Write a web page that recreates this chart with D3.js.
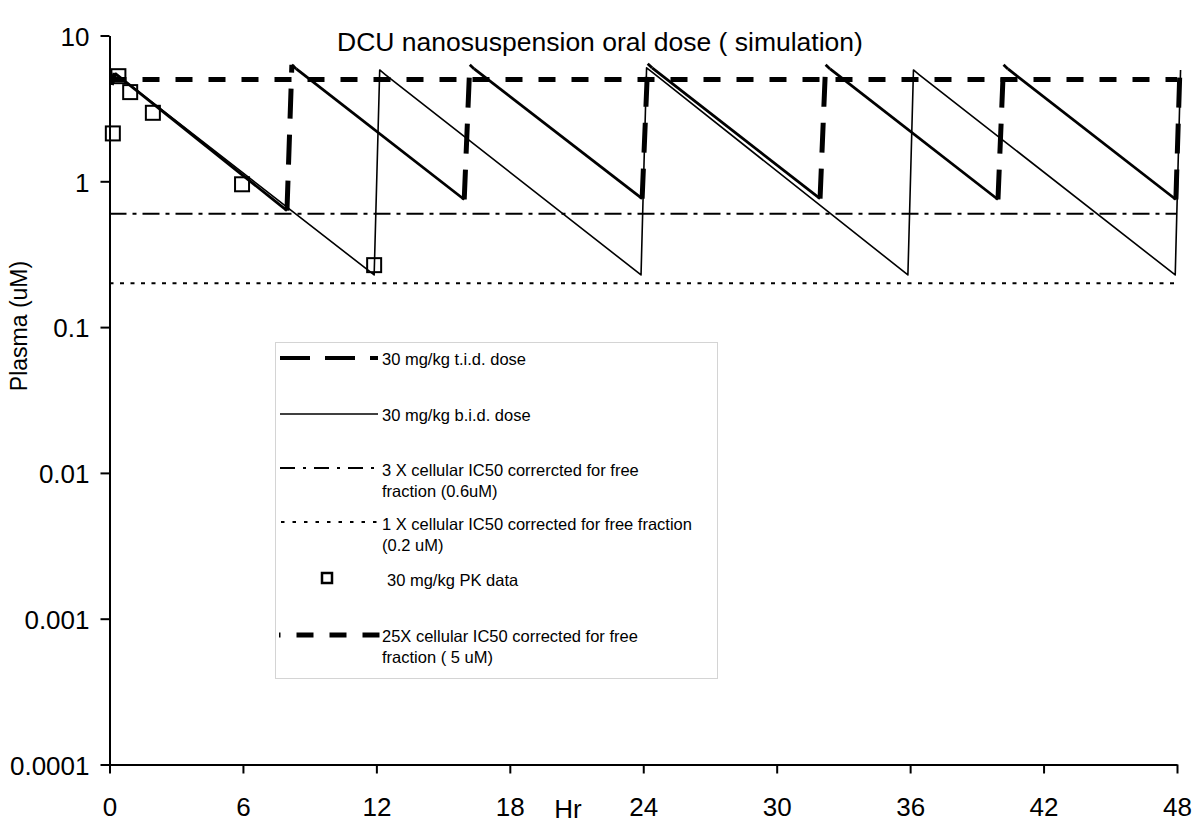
<!DOCTYPE html>
<html><head><meta charset="utf-8">
<script src="https://cdn.jsdelivr.net/npm/d3@7"></script>
<style>body{margin:0;background:#fff} text{font-family:"Liberation Sans",Arial,sans-serif;fill:#000}</style>
</head><body><svg id="c" width="1200" height="828"></svg>
<script>
// ---- data ----
const xTicks = [0, 6, 12, 18, 24, 30, 36, 42, 48];
const yTicks = [0.0001, 0.001, 0.01, 0.1, 1, 10];
const yTickLabels = ["0.0001", "0.001", "0.01", "0.1", "1", "10"];

// 30 mg/kg t.i.d. dose (simulation), hours / uM
const tidTime = [0.08, 0.25, 7.98, 8.2, 8.4, 15.95, 16.2, 16.4, 23.95, 24.2, 24.4, 31.95, 32.2, 32.4, 39.95, 40.2, 40.4, 47.95, 48.12];
const tidConc = [4.6, 5.5, 0.63, 6.3, 5.9, 0.75, 6.3, 5.9, 0.76, 6.4, 6.0, 0.76, 6.3, 5.9, 0.75, 6.3, 5.9, 0.75, 5.2];

// 30 mg/kg b.i.d. dose (simulation)
const bidTime = [0.08, 0.25, 11.9, 12.15, 12.4, 23.9, 24.15, 24.4, 35.9, 36.15, 36.4, 47.92, 48.16];
const bidConc = [4.6, 5.5, 0.228, 5.8, 5.4, 0.228, 6.0, 5.6, 0.228, 5.8, 5.4, 0.228, 5.8];

// 30 mg/kg PK data
const pkTime = [0.15, 0.4, 0.93, 1.95, 5.96, 11.9];
const pkConc = [2.13, 5.26, 4.09, 2.95, 0.954, 0.266];

// IC50 reference levels (uM)
const level25x = 5, level3x = 0.6, level1x = 0.2;

const titleText = "DCU nanosuspension oral dose ( simulation)";
const legendItems = [
  {key: "tid", lines: ["30 mg/kg t.i.d. dose"]},
  {key: "bid", lines: ["30 mg/kg b.i.d. dose"]},
  {key: "x3", lines: ["3 X cellular IC50 corrercted for free", "fraction (0.6uM)"]},
  {key: "x1", lines: ["1 X cellular IC50 corrected for free fraction", "(0.2 uM)"]},
  {key: "pk", lines: ["30 mg/kg PK data"]},
  {key: "x25", lines: ["25X cellular IC50 corrected for free", "fraction ( 5 uM)"]}
];

// ---- drawing ----
const svg = d3.select("#c");
const x = d3.scaleLinear().domain([0, 48]).range([109.5, 1177]);
const y = d3.scaleLog().domain([0.0001, 10]).range([764.5, 35.5]);

const styles = {
  tidRise: {w: 5, dash: "30,16"},
  tidFall: {w: 2.8, dash: null},
  bid: {w: 1.6, dash: null},
  x25: {w: 5, dash: "17,16"},
  x3: {w: 2, dash: "17,6,4,6"},
  x1: {w: 2, dash: "4,6.5"}
};

// axes
const yAxis = d3.axisLeft(y).tickValues(yTicks).tickFormat((d, i) => yTickLabels[i]).tickSize(9).tickSizeOuter(0).tickPadding(11);
const gy = svg.append("g").attr("transform", `translate(${x(0)},0)`).call(yAxis);
gy.selectAll("text").style("font-size", "26px").attr("dy", "0.38em");
gy.selectAll("line,path").attr("stroke", "#000").attr("stroke-width", 2);

const xAxis = d3.axisBottom(x).tickValues(xTicks).tickSize(9).tickSizeOuter(0).tickPadding(24);
const gx = svg.append("g").attr("transform", `translate(0,${y(0.0001)})`).call(xAxis);
gx.selectAll("text").style("font-size", "26px");
gx.selectAll("line,path").attr("stroke", "#000").attr("stroke-width", 2);

svg.append("text").attr("x", 568).attr("y", 818).attr("text-anchor", "middle").style("font-size", "26px").text("Hr");
svg.append("text").attr("transform", "translate(27,326) rotate(-90)").attr("text-anchor", "middle").style("font-size", "23px").text("Plasma (uM)");
svg.append("text").attr("x", 600).attr("y", 51).attr("text-anchor", "middle").style("font-size", "26.5px").text(titleText);

const line = d3.line().x(d => x(d[0])).y(d => y(d[1]));
function drawPath(g, pts, st) {
  const p = g.append("path").attr("d", line(pts)).attr("fill", "none").attr("stroke", "#000")
    .attr("stroke-width", st.w).attr("stroke-linejoin", "round");
  if (st.dash) p.attr("stroke-dasharray", st.dash);
  return p;
}
const plot = svg.append("g");
// reference levels
drawPath(plot, [[0, level1x], [48, level1x]], styles.x1);
drawPath(plot, [[0, level3x], [48, level3x]], styles.x3);
drawPath(plot, [[0, level25x], [48, level25x]], styles.x25);

// t.i.d. (dashed on the dosing rises, heavy on decays)
for (let i = 0; i < tidTime.length - 1; i++) {
  const seg = [[tidTime[i], tidConc[i]], [tidTime[i + 1], tidConc[i + 1]]];
  drawPath(plot, seg, tidConc[i + 1] > tidConc[i] ? styles.tidRise : styles.tidFall);
}
// b.i.d.
drawPath(plot, bidTime.map((t, i) => [t, bidConc[i]]), styles.bid);

// PK squares
const sq = 14;
plot.selectAll("rect.pk").data(pkTime.map((t, i) => [t, pkConc[i]])).enter().append("rect")
  .attr("x", d => x(d[0]) - sq / 2).attr("y", d => y(d[1]) - sq / 2)
  .attr("width", sq).attr("height", sq).attr("fill", "none").attr("stroke", "#000").attr("stroke-width", 2);

// legend
const lg = svg.append("g");
lg.append("rect").attr("x", 275.5).attr("y", 342.5).attr("width", 442).attr("height", 336)
  .attr("fill", "#fff").attr("stroke", "#d4d4d4").attr("stroke-width", 1);
const rowY = [358, 414, 468, 522, 578, 635];
const textBase = [365, 421, 476, 530, 586, 642];
legendItems.forEach((it, i) => {
  const yy = rowY[i];
  const g = lg.append("g");
  const seg = (st, x0, x1, off) => g.append("line").attr("x1", x0).attr("x2", x1).attr("y1", yy).attr("y2", yy)
    .attr("stroke", "#000").attr("stroke-width", st.w).attr("stroke-dasharray", st.dash || null)
    .attr("stroke-dashoffset", off || 0);
  if (it.key === "tid") seg({w: 4, dash: "30,15"}, 280, 378);
  if (it.key === "bid") seg(styles.bid, 280, 378);
  if (it.key === "x3") seg({w: 2, dash: "15,8,3,8"}, 280, 378);
  if (it.key === "x1") seg({w: 2, dash: "3.5,8"}, 281, 378);
  if (it.key === "x25") seg({w: 5, dash: "17,16"}, 279, 381, 15.5);
  if (it.key === "pk") g.append("rect").attr("x", 322).attr("y", yy - 5).attr("width", 10).attr("height", 10)
    .attr("fill", "none").attr("stroke", "#000").attr("stroke-width", 2.5);
  const tx = it.key === "pk" ? 387 : 382;
  it.lines.forEach((s, j) => g.append("text").attr("x", tx).attr("y", textBase[i] + j * 21).style("font-size", "16.5px").text(s));
});
</script></body></html>
